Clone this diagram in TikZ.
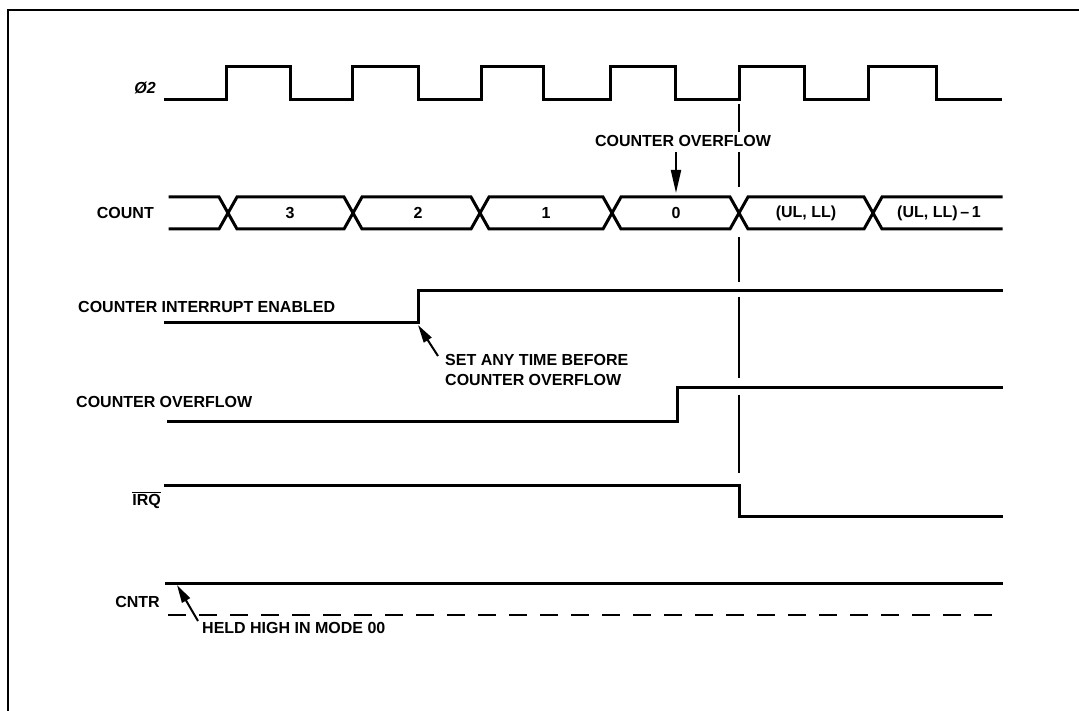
\documentclass[tikz,border=0pt]{standalone}
\usepackage{fontspec}
\setmainfont{Liberation Sans}
\usetikzlibrary{arrows.meta}
\begin{document}
\begin{tikzpicture}[x=1pt,y=-1pt,
  sig/.style={line width=3pt, line join=miter, line cap=rect},
  lbl/.style={font=\bfseries\fontsize{16}{20}\selectfont, inner sep=0pt},
  arr/.style={line width=2pt, -{Triangle[length=18pt,width=9pt]}},
  vmarker/.style={line width=2pt}]
\useasboundingbox (0,0) rectangle (1079,711);
% frame
\draw[line width=2.2pt] (8,711) -- (8,10) -- (1079,10);

% clock
\node[lbl, anchor=east, font=\bfseries\itshape\fontsize{16}{20}\selectfont] (phi) at (156,88) {Ø2};
\draw[sig] (165,100) -- (226,100) |- (290,67) |- (352,100) |- (418,67) |- (481,100)
  |- (543,67) |- (610,100) |- (675,67) |- (739,100) |- (804,67) |- (868,100)
  |- (936,67) |- (1000,100);

% count bus
\node[lbl, anchor=east] (count) at (154,213) {COUNT};
\draw[sig] (170,197) -- (219,197) -- (237,229) -- (344,229) -- (362,197) -- (471,197)
  -- (489,229) -- (603,229) -- (621,197) -- (730,197) -- (748,229) -- (864,229)
  -- (882,197) -- (1001,197);
\draw[sig] (170,229) -- (219,229) -- (237,197) -- (344,197) -- (362,229) -- (471,229)
  -- (489,197) -- (603,197) -- (621,229) -- (730,229) -- (748,197) -- (864,197)
  -- (882,229) -- (1001,229);
\node[lbl] (c3) at (290,213) {3};
\node[lbl] (c2) at (418,213) {2};
\node[lbl] (c1) at (546,213) {1};
\node[lbl] (c0) at (676,213) {0};
\node[lbl] (cul) at (806,213) {(UL, LL)};
\node[lbl] (culm) at (939,213) {(UL, LL)\,–\,1};

% counter overflow marker
\node[lbl] (ovl) at (683,141) {COUNTER OVERFLOW};
\coordinate (ovtip) at (676,193);
\draw[arr, -{Triangle[length=23pt,width=10pt]}] (676,152) -- (ovtip);

% vertical dashed marker
\draw[vmarker] (739,104) -- (739,132);
\draw[vmarker] (739,152) -- (739,187);
\draw[vmarker] (739,237) -- (739,282);
\draw[vmarker] (739,297) -- (739,378);
\draw[vmarker] (739,395) -- (739,473);

% counter interrupt enabled
\node[lbl, anchor=west] (cie) at (78,307) {COUNTER INTERRUPT ENABLED};
\draw[sig] (165,323) -- (418,323) |- (1001,291);
\coordinate (cieedge) at (418,325);
\node[lbl, anchor=west, align=left] (setlbl) at (445,370) {SET ANY TIME BEFORE\\COUNTER OVERFLOW};
\coordinate (settail) at (438,356);
\draw[arr] (settail) -- (cieedge);

% counter overflow
\node[lbl, anchor=west] (col) at (76,402) {COUNTER OVERFLOW};
\draw[sig] (168,421) -- (677,421) |- (1001,387);

% IRQ
\node[lbl, anchor=east] (irq) at (161,500) {$\overline{\hbox{\bfseries IRQ}}$};
\draw[sig] (165,485) -- (739,485) |- (1001,516);

% CNTR
\node[lbl, anchor=east] (cntr) at (160,602) {CNTR};
\draw[sig] (166,583) -- (1001,583);
\draw[line width=2.6pt, dash pattern=on 18pt off 13pt] (168,615) -- (1001,615);
\coordinate (cntredge) at (177,585);
\coordinate (heldtail) at (198,621);
\node[lbl, anchor=west] (held) at (202,628) {HELD HIGH IN MODE 00};
\draw[arr] (heldtail) -- (cntredge);
\end{tikzpicture}
\end{document}
